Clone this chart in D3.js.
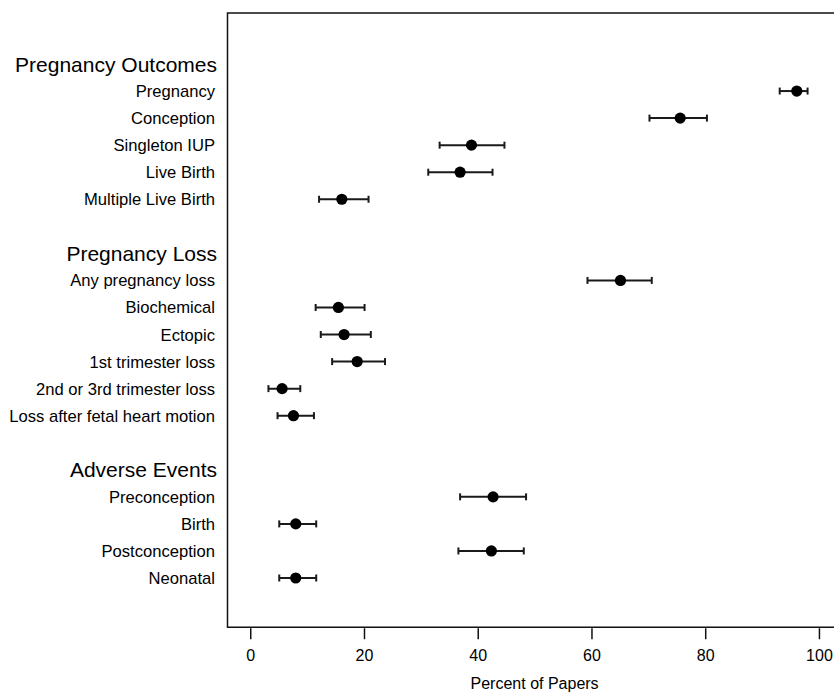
<!DOCTYPE html>
<html>
<head>
<meta charset="utf-8">
<script src="https://cdn.jsdelivr.net/npm/d3@7"></script>
<style>
  body { margin: 0; background: #fff; }
  text { font-family: "Liberation Sans", Arial, Helvetica, sans-serif; fill: #000; }
</style>
</head>
<body>
<div class="chart"></div>
<script>
// groups and their rows (row index 0..19, a blank row between groups)
var groups = ["Pregnancy Outcomes", "Pregnancy Loss", "Adverse Events"];
var groupRows = [0, 7, 15];

var labels = [
  "Pregnancy", "Conception", "Singleton IUP", "Live Birth", "Multiple Live Birth",
  "Any pregnancy loss", "Biochemical", "Ectopic", "1st trimester loss",
  "2nd or 3rd trimester loss", "Loss after fetal heart motion",
  "Preconception", "Birth", "Postconception", "Neonatal"
];
var rows = [1, 2, 3, 4, 5, 8, 9, 10, 11, 12, 13, 16, 17, 18, 19];

var estimate = [96.1, 75.6, 38.9, 36.9, 16.1, 65.1, 15.5, 16.5, 18.8, 5.6, 7.6, 42.7, 8.0, 42.4, 8.0];
var lower    = [93.1, 70.2, 33.3, 31.3, 12.1, 59.3, 11.5, 12.4, 14.4, 3.2, 4.8, 36.9, 5.1, 36.6, 5.1];
var upper    = [98.0, 80.3, 44.7, 42.6, 20.8, 70.6, 20.1, 21.2, 23.7, 8.8, 11.2, 48.5, 11.6, 48.1, 11.6];

var xTicks = [0, 20, 40, 60, 80, 100];

(function drawChart() {
  "use strict";
  var width = 834, height = 693;

  var svg = d3.select(".chart").append("svg")
    .attr("width", width)
    .attr("height", height);

  // plot region runs -4..104 like R's default 4% padding
  var xScale = d3.scaleLinear().domain([-4, 104]).range([227.5, 841.7]);
  var yScale = d3.scaleLinear().domain([0, 19]).range([64, 578]);

  var boxTop = yScale(-1.885), boxBottom = yScale(20.82);

  svg.append("rect")
    .attr("x", xScale(-4))
    .attr("y", boxTop)
    .attr("width", xScale(104) - xScale(-4))
    .attr("height", boxBottom - boxTop)
    .attr("fill", "none")
    .attr("stroke", "#111")
    .attr("stroke-width", 1.5);

  var xAxis = d3.axisBottom(xScale)
    .tickValues(xTicks)
    .tickSize(11)
    .tickPadding(10)
    .tickSizeOuter(0);

  var ax = svg.append("g")
    .attr("transform", "translate(0," + (boxBottom + 1) + ")")
    .call(xAxis);
  ax.select(".domain").remove();
  ax.selectAll(".tick line").attr("stroke", "#111").attr("stroke-width", 1.5);
  ax.selectAll(".tick text")
    .style("font-family", "Liberation Sans, Arial, sans-serif")
    .style("font-size", "16px")
    .attr("fill", "#000");

  svg.append("text")
    .attr("x", xScale(50))
    .attr("y", 689)
    .attr("text-anchor", "middle")
    .style("font-size", "16px")
    .text("Percent of Papers");

  // group headers
  svg.selectAll(".group")
    .data(groups)
    .enter().append("text")
    .attr("class", "group")
    .attr("x", 217)
    .attr("y", function(d, i) { return yScale(groupRows[i]); })
    .attr("dy", "0.36em")
    .attr("text-anchor", "end")
    .style("font-size", "21px")
    .text(function(d) { return d; });

  // item labels
  svg.selectAll(".label")
    .data(labels)
    .enter().append("text")
    .attr("class", "label")
    .attr("x", 215)
    .attr("y", function(d, i) { return yScale(rows[i]); })
    .attr("dy", "0.36em")
    .attr("text-anchor", "end")
    .style("font-size", "16.6px")
    .text(function(d) { return d; });

  var idx = d3.range(labels.length);

  // error bars
  var bars = svg.append("g").attr("stroke", "#1a1a1a").attr("stroke-width", 2);
  bars.selectAll(".bar")
    .data(idx)
    .enter().append("line")
    .attr("x1", function(i) { return xScale(lower[i]); })
    .attr("x2", function(i) { return xScale(upper[i]); })
    .attr("y1", function(i) { return yScale(rows[i]); })
    .attr("y2", function(i) { return yScale(rows[i]); });

  bars.selectAll(".capL")
    .data(idx)
    .enter().append("line")
    .attr("x1", function(i) { return xScale(lower[i]); })
    .attr("x2", function(i) { return xScale(lower[i]); })
    .attr("y1", function(i) { return yScale(rows[i]) - 3.5; })
    .attr("y2", function(i) { return yScale(rows[i]) + 3.5; });

  bars.selectAll(".capU")
    .data(idx)
    .enter().append("line")
    .attr("x1", function(i) { return xScale(upper[i]); })
    .attr("x2", function(i) { return xScale(upper[i]); })
    .attr("y1", function(i) { return yScale(rows[i]) - 3.5; })
    .attr("y2", function(i) { return yScale(rows[i]) + 3.5; });

  // point estimates
  svg.selectAll(".dot")
    .data(idx)
    .enter().append("circle")
    .attr("cx", function(i) { return xScale(estimate[i]); })
    .attr("cy", function(i) { return yScale(rows[i]); })
    .attr("r", 5.6)
    .attr("fill", "#000");
}());
</script>
</body>
</html>
